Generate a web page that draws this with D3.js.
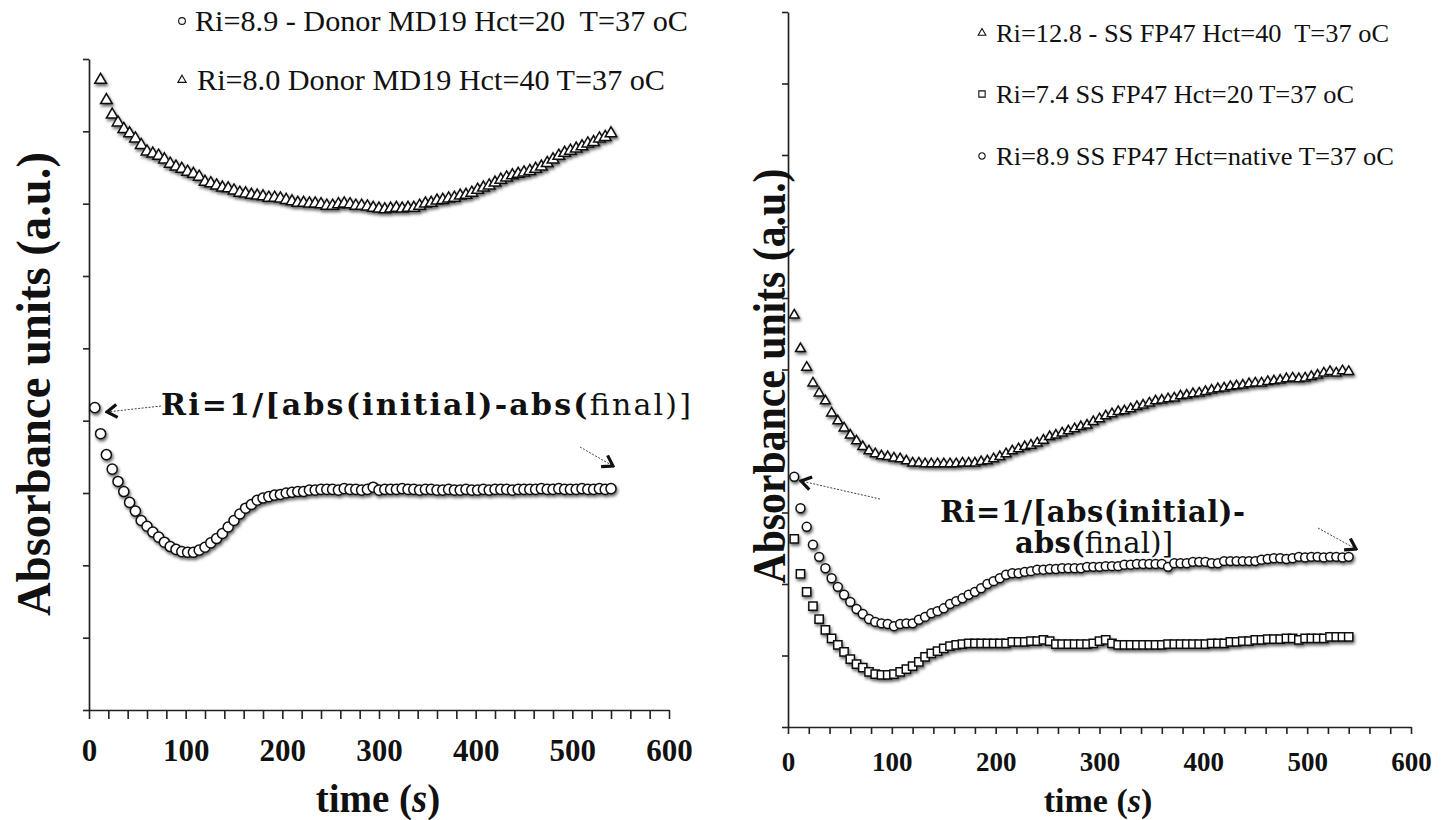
<!DOCTYPE html>
<html>
<head>
<meta charset="utf-8">
<script src="https://cdn.jsdelivr.net/npm/d3@7"></script>
<style>
  body { margin: 0; background: #fff; }
  text { white-space: pre; }
</style>
</head>
<body>
<svg id="chart" width="1449" height="820"></svg>
<script>
// sampling times (s)
const sampleTimes = [
  6, 12, 18, 24, 30, 36, 42, 48, 54, 60,
  66, 72, 78, 84, 90, 96, 102, 108, 114, 120,
  126, 132, 138, 144, 150, 156, 162, 168, 174, 180,
  186, 192, 198, 204, 210, 216, 222, 228, 234, 240,
  246, 252, 258, 264, 270, 276, 282, 288, 294, 300,
  306, 312, 318, 324, 330, 336, 342, 348, 354, 360,
  366, 372, 378, 384, 390, 396, 402, 408, 414, 420,
  426, 432, 438, 444, 450, 456, 462, 468, 474, 480,
  486, 492, 498, 504, 510, 516, 522, 528, 534, 540
];

// left panel: donor MD19
const donorHct20 = [
  0.418, 0.382, 0.353, 0.333, 0.316, 0.302, 0.287, 0.275, 0.262, 0.254,
  0.246, 0.239, 0.232, 0.226, 0.222, 0.219, 0.218, 0.218, 0.221, 0.225,
  0.231, 0.237, 0.244, 0.253, 0.262, 0.271, 0.279, 0.284, 0.290, 0.293,
  0.295, 0.297, 0.298, 0.300, 0.301, 0.302, 0.302, 0.304, 0.304, 0.305,
  0.305, 0.305, 0.304, 0.306, 0.305, 0.305, 0.304, 0.305, 0.308, 0.304,
  0.305, 0.305, 0.305, 0.306, 0.305, 0.305, 0.304, 0.305, 0.305, 0.304,
  0.304, 0.305, 0.304, 0.304, 0.305, 0.304, 0.304, 0.305, 0.304, 0.305,
  0.305, 0.305, 0.304, 0.305, 0.305, 0.305, 0.305, 0.306, 0.305, 0.305,
  0.306, 0.305, 0.305, 0.305, 0.306, 0.305, 0.305, 0.306, 0.305, 0.306
];
// starts at 12 s
const donorHct40 = [
  0.871, 0.843, 0.823, 0.812, 0.803, 0.797, 0.790, 0.781, 0.772, 0.769,
  0.766, 0.761, 0.755, 0.751, 0.748, 0.744, 0.741, 0.737, 0.730, 0.728,
  0.725, 0.722, 0.721, 0.718, 0.715, 0.714, 0.712, 0.711, 0.710, 0.708,
  0.708, 0.707, 0.705, 0.703, 0.701, 0.701, 0.700, 0.700, 0.699, 0.697,
  0.697, 0.699, 0.700, 0.699, 0.697, 0.697, 0.696, 0.694, 0.693, 0.692,
  0.693, 0.694, 0.693, 0.694, 0.694, 0.697, 0.700, 0.701, 0.704, 0.705,
  0.707, 0.708, 0.711, 0.712, 0.715, 0.719, 0.722, 0.725, 0.729, 0.733,
  0.736, 0.739, 0.741, 0.743, 0.745, 0.748, 0.751, 0.756, 0.761, 0.766,
  0.770, 0.773, 0.776, 0.779, 0.783, 0.785, 0.790, 0.792, 0.797
];

// right panel: SS FP47
const ssHct40 = [
  0.576, 0.529, 0.503, 0.481, 0.467, 0.456, 0.439, 0.428, 0.418, 0.408,
  0.400, 0.392, 0.386, 0.382, 0.379, 0.378, 0.376, 0.375, 0.372, 0.369,
  0.369, 0.368, 0.368, 0.368, 0.368, 0.368, 0.368, 0.369, 0.369, 0.369,
  0.371, 0.372, 0.375, 0.378, 0.382, 0.386, 0.389, 0.392, 0.394, 0.397,
  0.401, 0.406, 0.408, 0.411, 0.414, 0.417, 0.420, 0.422, 0.427, 0.431,
  0.435, 0.438, 0.441, 0.442, 0.445, 0.448, 0.450, 0.453, 0.456, 0.457,
  0.459, 0.460, 0.463, 0.464, 0.466, 0.467, 0.469, 0.471, 0.473, 0.474,
  0.476, 0.477, 0.478, 0.480, 0.481, 0.481, 0.483, 0.484, 0.485, 0.487,
  0.488, 0.487, 0.488, 0.490, 0.492, 0.495, 0.497, 0.495, 0.498, 0.497
];
const ssHct20 = [
  0.263, 0.214, 0.189, 0.169, 0.151, 0.136, 0.124, 0.115, 0.105, 0.095,
  0.088, 0.083, 0.077, 0.074, 0.073, 0.073, 0.074, 0.077, 0.081, 0.085,
  0.091, 0.098, 0.103, 0.106, 0.110, 0.113, 0.115, 0.116, 0.117, 0.117,
  0.117, 0.117, 0.117, 0.117, 0.117, 0.119, 0.119, 0.119, 0.120, 0.120,
  0.122, 0.120, 0.116, 0.116, 0.116, 0.116, 0.116, 0.116, 0.117, 0.120,
  0.122, 0.117, 0.115, 0.115, 0.115, 0.115, 0.115, 0.115, 0.115, 0.115,
  0.116, 0.116, 0.116, 0.116, 0.116, 0.116, 0.116, 0.117, 0.117, 0.117,
  0.119, 0.119, 0.120, 0.120, 0.122, 0.122, 0.123, 0.123, 0.123, 0.124,
  0.124, 0.122, 0.124, 0.124, 0.124, 0.124, 0.126, 0.126, 0.126, 0.126
];
const ssNative = [
  0.350, 0.306, 0.280, 0.255, 0.238, 0.222, 0.208, 0.196, 0.185, 0.175,
  0.165, 0.158, 0.151, 0.147, 0.145, 0.144, 0.141, 0.144, 0.145, 0.145,
  0.150, 0.154, 0.159, 0.162, 0.166, 0.172, 0.176, 0.180, 0.185, 0.189,
  0.194, 0.200, 0.204, 0.208, 0.213, 0.215, 0.215, 0.217, 0.218, 0.220,
  0.220, 0.221, 0.221, 0.222, 0.222, 0.222, 0.222, 0.224, 0.224, 0.224,
  0.225, 0.225, 0.225, 0.227, 0.227, 0.228, 0.228, 0.228, 0.228, 0.228,
  0.224, 0.229, 0.229, 0.229, 0.231, 0.231, 0.231, 0.229, 0.229, 0.232,
  0.232, 0.232, 0.232, 0.232, 0.232, 0.234, 0.235, 0.236, 0.236, 0.235,
  0.236, 0.238, 0.237, 0.238, 0.238, 0.237, 0.238, 0.238, 0.237, 0.238
];

const xTicks = [0, 20, 40, 60, 80, 100, 120, 140, 160, 180, 200, 220, 240, 260, 280, 300,
  320, 340, 360, 380, 400, 420, 440, 460, 480, 500, 520, 540, 560, 580, 600];
const xLabels = [0, 100, 200, 300, 400, 500, 600];
const leftYTicks = [0, 0.1, 0.2, 0.3, 0.4, 0.5, 0.6, 0.7, 0.8, 0.9];
const rightYTicks = [0, 0.1, 0.2, 0.3, 0.4, 0.5, 0.6, 0.7, 0.8, 0.9, 1.0];

const leftLegend = ['Ri=8.9 - Donor MD19 Hct=20  T=37 oC', 'Ri=8.0 Donor MD19 Hct=40 T=37 oC'];
const rightLegend = ['Ri=12.8 - SS FP47 Hct=40  T=37 oC', 'Ri=7.4 SS FP47 Hct=20 T=37 oC',
  'Ri=8.9 SS FP47 Hct=native T=37 oC'];

const serif = "'Liberation Serif', 'DejaVu Serif', serif";
const wideSerif = "'DejaVu Serif', 'Liberation Serif', serif";
const ink = '#111';

let svg = d3.select('#chart');

svg.append('rect').attr('width', 1449).attr('height', 820).attr('fill', '#fff');

let defs = svg.append('defs');

let shadow = defs.append('filter')
  .attr('id', 'shadow')
  .attr('x', '-50%').attr('y', '-50%')
  .attr('width', '200%').attr('height', '200%');
shadow.append('feDropShadow')
  .attr('dx', 1.2)
  .attr('dy', 2.2)
  .attr('stdDeviation', 1.4)
  .attr('flood-color', '#000')
  .attr('flood-opacity', 0.6);

defs.append('marker')
  .attr('id', 'chevron')
  .attr('markerUnits', 'userSpaceOnUse')
  .attr('viewBox', '-14 -9 16 18')
  .attr('markerWidth', 16)
  .attr('markerHeight', 18)
  .attr('refX', 0)
  .attr('refY', 0)
  .attr('orient', 'auto')
  .append('path')
    .attr('d', 'M-10,-6.5L0,0L-10,6.5')
    .attr('fill', 'none')
    .attr('stroke', ink)
    .attr('stroke-width', 3.2);

let leftX = d3.scaleLinear().domain([0, 600]).range([89, 669]);
let leftY = d3.scaleLinear().domain([0, 0.9]).range([710, 59]);
let rightX = d3.scaleLinear().domain([0, 600]).range([788, 1411]);
let rightY = d3.scaleLinear().domain([0, 1]).range([727, 12]);

function drawAxes(xScale, yScale, labelSize, tickLen, padding) {
  let y0 = yScale.range()[0];
  let x0 = xScale.range()[0];

  let xAxis = svg.append('g')
    .attr('transform', 'translate(0,' + y0 + ')')
    .call(d3.axisBottom(xScale)
      .tickValues(xTicks)
      .tickSize(tickLen)
      .tickSizeOuter(0)
      .tickPadding(padding)
      .tickFormat(function(d) {
        return xLabels.includes(d) ? d : '';
      }));

  xAxis.selectAll('text')
    .attr('font-family', serif)
    .attr('font-weight', 'bold')
    .attr('font-size', labelSize)
    .attr('fill', ink);

  let yAxis = svg.append('g')
    .attr('transform', 'translate(' + x0 + ',0)')
    .call(d3.axisLeft(yScale)
      .tickValues(yScale === leftY ? leftYTicks : rightYTicks)
      .tickSize(6)
      .tickSizeOuter(0)
      .tickFormat(''));

  [xAxis, yAxis].forEach(function(ax) {
    ax.select('.domain').attr('stroke', '#222').attr('stroke-width', 1.7);
    ax.selectAll('.tick line').attr('stroke', '#222').attr('stroke-width', 1.6);
  });
}

function drawSeries(xScale, yScale, times, values, type, size) {
  svg.append('g')
    .attr('filter', 'url(#shadow)')
    .selectAll('path')
    .data(values).enter()
      .append('path')
        .attr('transform', function(d, i) {
          return 'translate(' + xScale(times[i]) + ',' + yScale(d) + ')';
        })
        .attr('d', d3.symbol().type(type).size(size))
        .attr('fill', '#fff')
        .attr('stroke', ink)
        .attr('stroke-width', 1.5);
}

function legendItem(x, y, type, size, label, textX, baseline, fontSize, width) {
  svg.append('path')
    .attr('transform', 'translate(' + x + ',' + y + ')')
    .attr('d', d3.symbol().type(type).size(size))
    .attr('fill', '#fff')
    .attr('stroke', ink)
    .attr('stroke-width', 1.1);

  svg.append('text')
    .attr('x', textX)
    .attr('y', baseline)
    .attr('font-family', serif)
    .attr('font-size', fontSize)
    .attr('fill', ink)
    .attr('textLength', width)
    .attr('lengthAdjust', 'spacingAndGlyphs')
    .text(label);
}

function yTitle(x, y, size, width) {
  svg.append('text')
    .attr('transform', 'translate(' + x + ',' + y + ') rotate(-90)')
    .attr('text-anchor', 'middle')
    .attr('font-family', serif)
    .attr('font-weight', 'bold')
    .attr('font-size', size)
    .attr('fill', ink)
    .attr('textLength', width)
    .attr('lengthAdjust', 'spacingAndGlyphs')
    .text('Absorbance units (a.u.)');
}

function xTitle(x, y, size) {
  let t = svg.append('text')
    .attr('x', x)
    .attr('y', y)
    .attr('text-anchor', 'middle')
    .attr('font-family', serif)
    .attr('font-weight', 'bold')
    .attr('font-size', size)
    .attr('fill', ink);
  t.append('tspan').text('time (');
  t.append('tspan').attr('font-style', 'italic').text('s');
  t.append('tspan').text(')');
}

function formula(x, y, size, bold, plain, width) {
  let t = svg.append('text')
    .attr('x', x)
    .attr('y', y)
    .attr('font-family', wideSerif)
    .attr('font-size', size)
    .attr('fill', ink)
    .attr('textLength', width)
    .attr('lengthAdjust', 'spacing');
  t.append('tspan').attr('font-weight', 'bold').text(bold);
  if (plain) {
    t.append('tspan').attr('font-weight', 'normal').text(plain);
  }
}

function arrow(x1, y1, x2, y2) {
  svg.append('line')
    .attr('x1', x1).attr('y1', y1)
    .attr('x2', x2).attr('y2', y2)
    .attr('stroke', '#444')
    .attr('stroke-width', 1)
    .attr('stroke-dasharray', '2,1.5')
    .attr('marker-end', 'url(#chevron)');
}

// left panel
drawAxes(leftX, leftY, 31, 9, 20);
drawSeries(leftX, leftY, sampleTimes.slice(1), donorHct40, d3.symbolTriangle, 58);
drawSeries(leftX, leftY, sampleTimes, donorHct20, d3.symbolCircle, 80);
yTitle(50, 384, 48, 464);
xTitle(378, 812, 39);
legendItem(182, 21, d3.symbolCircle, 36, leftLegend[0], 195, 31, 30, 493);
legendItem(182, 80, d3.symbolTriangle, 30, leftLegend[1], 197, 90, 30, 468);
formula(161, 415, 30, 'Ri=1/[abs(initial)-abs(', 'final)]', 530);
arrow(161, 406, 107, 412);
arrow(580, 447, 613, 466);

// right panel
drawAxes(rightX, rightY, 27, 7, 18);
drawSeries(rightX, rightY, sampleTimes, ssHct40, d3.symbolTriangle, 42);
drawSeries(rightX, rightY, sampleTimes, ssNative, d3.symbolCircle, 62);
drawSeries(rightX, rightY, sampleTimes, ssHct20, d3.symbolSquare, 68);
yTitle(785, 376, 46, 415);
xTitle(1098, 812, 34);
legendItem(982, 33, d3.symbolTriangle, 26, rightLegend[0], 996, 42, 25, 393);
legendItem(982, 94, d3.symbolSquare, 40, rightLegend[1], 996, 103, 25, 358);
legendItem(982, 156, d3.symbolCircle, 32, rightLegend[2], 996, 165, 25, 398);
formula(940, 522, 29, 'Ri=1/[abs(initial)-', null, 305);
formula(1015, 553, 29, 'abs(', 'final)]', 158);
arrow(880, 499, 801, 481);
arrow(1318, 528, 1356, 549);
</script>
</body>
</html>
